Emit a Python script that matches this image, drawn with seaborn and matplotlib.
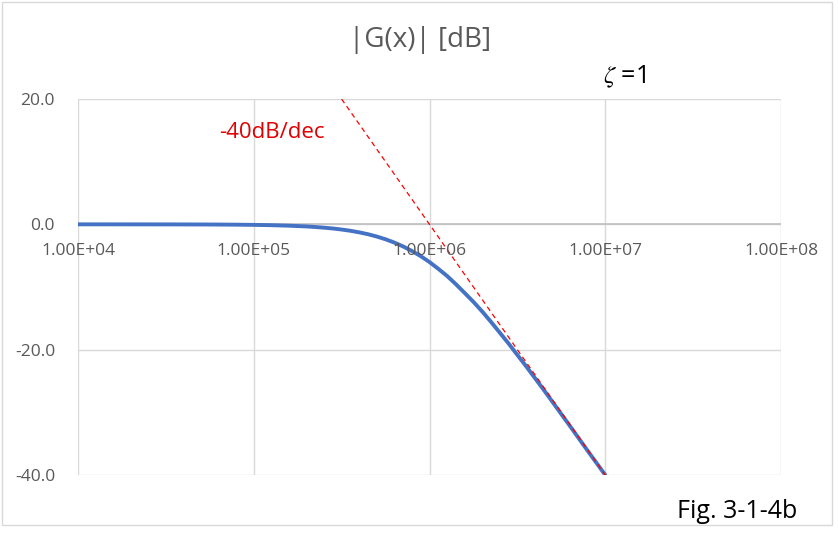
import numpy as np
import pandas as pd
import seaborn as sns
import matplotlib
matplotlib.use("Agg")
import matplotlib.pyplot as plt
from matplotlib.ticker import FixedLocator, NullLocator

# ---- data ----
freq = [1.00e4, 1.26e4, 1.58e4, 2.00e4, 2.51e4, 3.16e4, 3.98e4, 5.01e4, 6.31e4, 7.94e4,
        1.00e5, 1.26e5, 1.58e5, 2.00e5, 2.24e5, 2.51e5, 2.82e5, 3.16e5, 3.55e5, 3.98e5,
        4.47e5, 5.01e5, 5.62e5, 6.31e5, 7.08e5, 7.94e5, 8.91e5, 1.00e6, 1.12e6, 1.26e6,
        1.41e6, 1.58e6, 1.78e6, 2.00e6, 2.24e6, 2.51e6, 2.82e6, 3.16e6, 3.55e6, 3.98e6,
        4.47e6, 5.01e6, 6.31e6, 7.94e6, 1.00e7]
gain_db = [-0.001, -0.001, -0.002, -0.004, -0.006, -0.009, -0.014, -0.022, -0.035, -0.055,
           -0.086, -0.137, -0.216, -0.339, -0.425, -0.532, -0.664, -0.828, -1.030, -1.278,
           -1.580, -1.947, -2.386, -2.911, -3.529, -4.249, -5.078, -6.021, -7.078, -8.249,
           -9.529, -10.911, -12.387, -13.946, -15.580, -17.278, -19.030, -20.828, -22.664, -24.532,
           -26.425, -28.339, -32.215, -36.137, -40.0]
asym_freq = [3.16e5, 1.00e7]
asym_db = [20.0, -40.0]
x_ticks = [1e4, 1e5, 1e6, 1e7, 1e8]
x_labels = ["1.00E+04", "1.00E+05", "1.00E+06", "1.00E+07", "1.00E+08"]
y_ticks = [-40, -20, 0, 20]
y_labels = ["-40.0", "-20.0", "0.0", "20.0"]

sns.set_theme(style="white")
plt.rcParams['font.family'] = ['Open Sans', 'DejaVu Sans']
plt.rcParams['mathtext.fontset'] = 'stix'

W, H = 838, 538
fig = plt.figure(figsize=(W / 100, H / 100), dpi=100)
ax = fig.add_axes([78 / W, 1 - 475 / H, (781 - 78) / W, (475 - 99) / H])

df = pd.DataFrame({"f": freq, "g": gain_db})
ad = pd.DataFrame({"f": asym_freq, "g": asym_db})

ax.set_xscale("log")
ax.set_xlim(1e4, 1e8)
ax.set_ylim(-40, 20)

grid_c = "#d9d9d9"
for xt in x_ticks:
    ax.axvline(xt, color=grid_c, lw=1.0, zorder=0)
for yt in y_ticks:
    ax.axhline(yt, color=grid_c, lw=1.0, zorder=0)
ax.axhline(0, color="#bfbfbf", lw=1.2, zorder=1)

sns.lineplot(data=ad, x="f", y="g", ax=ax, color="#ff0000", lw=0.9,
             linestyle=(0, (4, 3)), zorder=3)
sns.lineplot(data=df, x="f", y="g", ax=ax, color="#4472c4", lw=2.8, zorder=2)

for s in ax.spines.values():
    s.set_visible(False)
ax.xaxis.set_major_locator(NullLocator())
ax.xaxis.set_minor_locator(NullLocator())
ax.yaxis.set_major_locator(FixedLocator(y_ticks))
ax.set_yticklabels(y_labels)
ax.tick_params(axis="y", length=0, pad=16.5, labelsize=12.5, labelcolor="#595959")
ax.set_xlabel("")
ax.set_ylabel("")

for xt, lab in zip(x_ticks, x_labels):
    ax.text(xt, -4.2, lab, ha="center", va="center", fontsize=12.5,
            color="#595959", zorder=4)

fig.text(420 / W, 1 - 40 / H, "|G(x)| [dB]", ha="center", va="center",
         fontsize=20, color="#595959")
fig.text(625 / W, 1 - 77 / H, r"$\zeta$ =1", ha="center", va="center",
         fontsize=18, color="black")
fig.text(272 / W, 1 - 133 / H, "-40dB/dec", ha="center", va="center",
         fontsize=16, color="#e00000")
fig.text(737 / W, 1 - 511 / H, "Fig. 3-1-4b", ha="center", va="center",
         fontsize=18, color="black")

border = plt.Rectangle((2 / W, 1 - 525 / H), (832 - 2) / W, (525 - 2) / H,
                       transform=fig.transFigure, fill=False,
                       edgecolor="#d9d9d9", lw=1.0)
fig.patches.append(border)

fig.savefig("out.png", dpi=100)
